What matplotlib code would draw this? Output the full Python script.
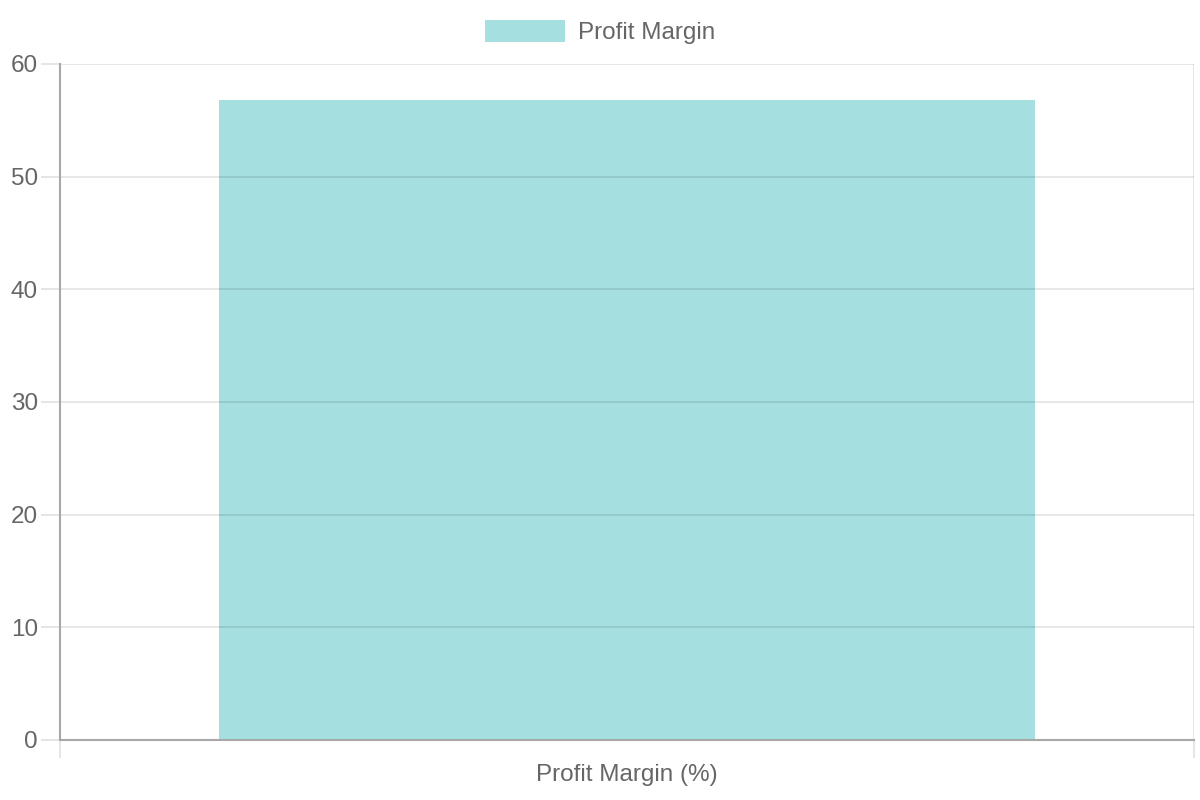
import matplotlib
matplotlib.use("Agg")
import matplotlib.pyplot as plt
from matplotlib.patches import Patch

plt.rcParams['font.family'] = ['Liberation Sans', 'DejaVu Sans']

# dados
categorias = ["Profit Margin (%)"]
valores = [56.8]
serie = "Profit Margin"
y_ticks = [0, 10, 20, 30, 40, 50, 60]

cor_barra = "#a5dfdf"
cor_texto = "#666666"
cor_tick = "#e3e3e3"
cor_eixo = "#a8a8a8"

fig = plt.figure(figsize=(12, 8), dpi=100)
ax = fig.add_axes([0.05, 0.075, 0.945, 0.845])

x = list(range(len(categorias)))
ax.bar(x, valores, width=0.72, color=cor_barra, zorder=1)

ax.set_xlim(-0.5, len(categorias) - 0.5)
ax.set_ylim(0, 60)
ax.set_yticks(y_ticks)
ax.set_xticks(x)
ax.set_xticklabels(categorias)
ax.set_xticks([i - 0.5 for i in range(len(categorias) + 1)], minor=True)

# grade por cima da barra, semitransparente
ax.grid(axis='y', color='black', alpha=0.1, linewidth=1.3, zorder=2)
ax.grid(axis='x', which='minor', color='black', alpha=0.1, linewidth=1.3, zorder=0)
ax.set_axisbelow(False)

for lado in ['top', 'right']:
    ax.spines[lado].set_visible(False)
for lado in ['left', 'bottom']:
    ax.spines[lado].set_color(cor_eixo)
    ax.spines[lado].set_linewidth(1.5)
    ax.spines[lado].set_zorder(3)

ax.tick_params(axis='y', length=14, color=cor_tick, width=1.3, pad=2,
               labelsize=17.5, labelcolor=cor_texto)
ax.tick_params(axis='x', which='major', length=0, pad=17,
               labelsize=17.5, labelcolor=cor_texto)
ax.tick_params(axis='x', which='minor', length=13, color=cor_tick, width=1.3)

# legenda
handle = Patch(facecolor=cor_barra, edgecolor='none', label=serie)
fig.legend(handles=[handle], loc='center', bbox_to_anchor=(0.5, 0.96),
           frameon=False, fontsize=17.5, labelcolor=cor_texto,
           handlelength=3.3, handleheight=1.0, handletextpad=0.5)

fig.savefig("out.png", dpi=100)
plt.close(fig)
